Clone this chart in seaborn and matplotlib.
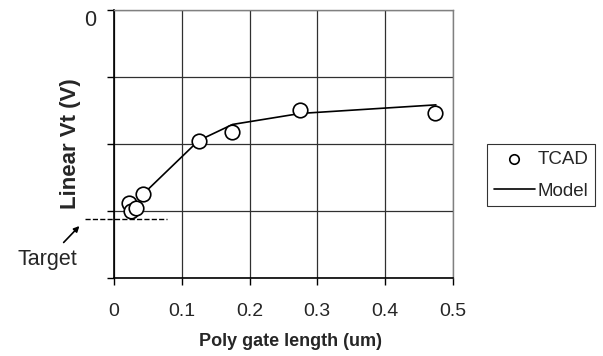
import matplotlib
matplotlib.use("Agg")
import matplotlib.pyplot as plt
import seaborn as sns
import pandas as pd

# TCAD simulation points
tcad_len = [0.022, 0.025, 0.033, 0.043, 0.125, 0.174, 0.275, 0.474]
tcad_vt = [-0.721, -0.749, -0.740, -0.687, -0.489, -0.454, -0.373, -0.385]

# model curve
model_len = [0.043, 0.125, 0.175, 0.275, 0.475]
model_vt = [-0.687, -0.487, -0.427, -0.386, -0.354]

# target level
target_x = [-0.043, 0.078]
target_y = [-0.78, -0.78]

x_ticks = [0, 0.1, 0.2, 0.3, 0.4, 0.5]
x_tick_labels = ["0", "0.1", "0.2", "0.3", "0.4", "0.5"]
y_ticks = [-1.0, -0.75, -0.5, -0.25, 0.0]
y_tick_labels = ["", "", "", "", "0"]

tcad = pd.DataFrame({"len": tcad_len, "vt": tcad_vt})
model = pd.DataFrame({"len": model_len, "vt": model_vt})

sns.set_style("white")
plt.rcParams["font.family"] = ["Liberation Sans", "DejaVu Sans"]

fig = plt.figure(figsize=(6.03, 3.56), dpi=100)
ax = fig.add_axes([0.189, 0.219, 0.562, 0.753])

sns.lineplot(data=model, x="len", y="vt", color="black", lw=1.2,
             label="Model", ax=ax, zorder=2)
sns.scatterplot(data=tcad, x="len", y="vt", marker="o", s=110,
                facecolor="white", edgecolor="black", linewidth=1.2,
                label="TCAD", ax=ax, zorder=3)

ax.plot(target_x, target_y, color="black", ls="--", lw=1, clip_on=False)
ax.annotate("Target", xy=(-0.051, -0.806), xytext=(-0.098, -0.93),
            ha="center", va="center", fontsize=15.5, annotation_clip=False,
            arrowprops=dict(arrowstyle="-|>", color="black", lw=1.2,
                            mutation_scale=8, shrinkA=3, shrinkB=0))

ax.set_xlim(0, 0.5)
ax.set_ylim(-1, 0)
ax.set_xticks(x_ticks)
ax.set_xticklabels(x_tick_labels, fontsize=14)
ax.set_yticks(y_ticks)
ax.set_yticklabels(y_tick_labels, fontsize=15.5)
for lab in ax.get_yticklabels():
    lab.set_va("top")
ax.tick_params(axis="both", direction="out", length=5, width=1,
               color="black", left=True, bottom=True)
ax.tick_params(axis="x", pad=13)
ax.tick_params(axis="y", pad=8)

ax.grid(True, color="#303030", lw=0.9)
ax.set_axisbelow(True)
for side in ["left", "bottom"]:
    ax.spines[side].set_color("black")
    ax.spines[side].set_linewidth(1.2)
for side in ["top", "right"]:
    ax.spines[side].set_color("#808080")
    ax.spines[side].set_linewidth(1.0)

ax.set_xlabel("Poly gate length (um)", fontsize=13, fontweight="bold")
ax.xaxis.set_label_coords(0.522, -0.205)
ax.set_ylabel("Linear Vt (V)", fontsize=16, fontweight="bold", labelpad=2)

handles, labels = ax.get_legend_handles_labels()
order = [labels.index("TCAD"), labels.index("Model")]
leg = ax.legend([handles[i] for i in order], [labels[i] for i in order],
                loc="upper left", bbox_to_anchor=(0.808, 0.596),
                bbox_transform=fig.transFigure, fontsize=13.5,
                frameon=True, fancybox=False, borderaxespad=0,
                handlelength=2.2, handletextpad=0.15, markerscale=0.65,
                borderpad=0.35, labelspacing=0.8)
leg.get_frame().set_edgecolor("black")
leg.get_frame().set_linewidth(0.8)

fig.savefig("out.png", dpi=100)
